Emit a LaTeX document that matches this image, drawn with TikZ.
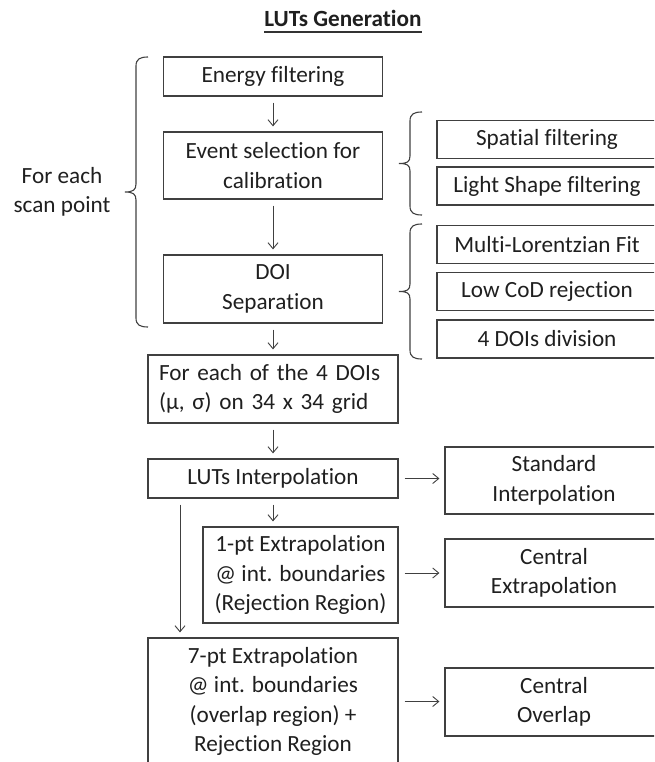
\documentclass[tikz,border=0pt]{standalone}
\usepackage{fontspec}
\setmainfont{Carlito}[Ligatures=NoCommon]
\usetikzlibrary{arrows.meta}

\begin{document}
\begin{tikzpicture}[x=1pt, y=-1pt, >={Straight Barb[length=6pt,width=10pt]},
        font=\fontsize{23.2}{29.5}\selectfont,
        box/.style={draw=black!75, line width=1.2pt, align=center, inner sep=0pt, text=black!88},
        arr/.style={->, draw=black!75, line width=.9pt, shorten <=6pt, shorten >=5pt},
        brace/.style={draw=black!75, line width=1.1pt}]
        \useasboundingbox (0,0) rectangle (654,762);
        \clip (0,0) rectangle (654,762);
        % title
        \node[font=\fontsize{23.2}{29.5}\selectfont\bfseries, text=black!88, anchor=base, inner sep=0pt] (title) at (343,27){LUTs Generation};
        \draw[line width=1.6pt, black!80] ([yshift=-5pt]title.base west) -- ([yshift=-5pt]title.base east);
        % left column
        \node[box, minimum width=219, minimum height=39] (energy) at (273,76.5){Energy filtering};
        \node[box, minimum width=219, minimum height=67] (event) at (273,165.5){Event selection for\\calibration};
        \node[box, minimum width=219, minimum height=68] (doi) at (273,289){DOI\\Separation};
        \node[box, minimum width=250, minimum height=68, text width=228, align=left] (dois) at (273,389){For each of the 4 DOIs\\(μ, σ) on 34 x 34 grid};
        \node[box, minimum width=250, minimum height=39] (interp) at (273,478.5){LUTs Interpolation};
        \node[box, minimum width=195, minimum height=96] (onept) at (300.5,575){1-pt Extrapolation\\@ int. boundaries\\(Rejection Region)};
        \node[box, minimum width=250, minimum height=127] (sevenpt) at (273,701.5){7-pt Extrapolation\\@ int. boundaries\\(overlap region) +\\Rejection Region};
        \node[align=center, text=black!88] (scan) at (62,192){For each\\scan point};
        % right column
        \node[box, minimum width=220, minimum height=38] (spatial) at (547,139.5){Spatial filtering};
        \node[box, minimum width=220, minimum height=38] (lightshape) at (547,186){Light Shape filtering};
        \node[box, minimum width=220, minimum height=38] (lorentz) at (547,244.5){Multi-Lorentzian Fit};
        \node[box, minimum width=220, minimum height=38] (lowcod) at (547,291.5){Low CoD rejection};
        \node[box, minimum width=220, minimum height=38] (fourdoi) at (547,339){4 DOIs division};
        \node[box, minimum width=218, minimum height=67] (standard) at (554,480.5){Standard\\Interpolation};
        \node[box, minimum width=218, minimum height=68] (centextra) at (554,573){Central\\Extrapolation};
        \node[box, minimum width=218, minimum height=68] (centoverlap) at (554,702){Central\\Overlap};
        % braces
        \draw[brace] (148,57) .. controls (140,57) and (136,59) .. (136,66) -- (136,184) .. controls (136,190) and (133,192) .. (125,192)
            .. controls (133,192) and (136,194) .. (136,200) -- (136,318) .. controls (136,325) and (140,327) .. (148,327);
        \draw[brace] (422,112) .. controls (414,112) and (410,114) .. (410,121) -- (410,156) .. controls (410,162) and (407,163.5) .. (399,163.5)
            .. controls (407,163.5) and (410,165) .. (410,171) -- (410,206) .. controls (410,213) and (414,215) .. (422,215);
        \draw[brace] (422,224) .. controls (414,224) and (410,226) .. (410,233) -- (410,284) .. controls (410,290) and (407,291.5) .. (399,291.5)
            .. controls (407,291.5) and (410,293) .. (410,299) -- (410,350) .. controls (410,357) and (414,359) .. (422,359);
        % arrows
        \draw[arr] (energy) -- (event);
        \draw[arr] (event) -- (doi);
        \draw[arr] (doi) -- (dois);
        \draw[arr] (dois) -- (interp);
        \draw[arr] (interp.south) -- (interp.south |- onept.north);
        \draw[arr] ([xshift=-93pt]interp.south) -- ([xshift=-93pt]interp.south |- sevenpt.north);
        \draw[arr] (interp.east) -- (interp.east -| standard.west);
        \draw[arr] ([yshift=2pt]onept.east) -- ([yshift=2pt]onept.east -| centextra.west);
        \draw[arr] (sevenpt.east) -- (sevenpt.east -| centoverlap.west);
    \end{tikzpicture}
\end{document}
